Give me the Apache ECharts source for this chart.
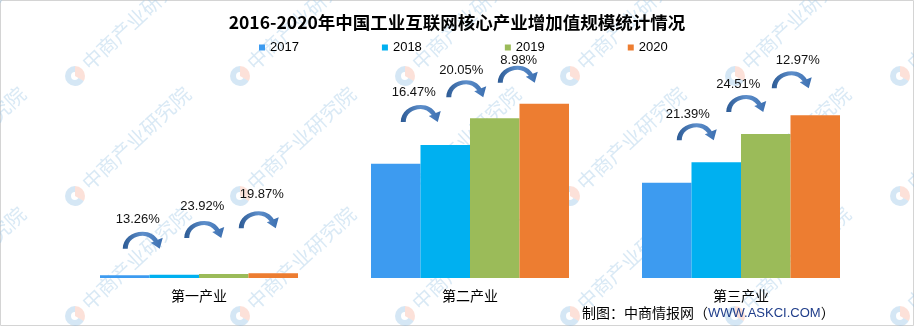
<!DOCTYPE html>
<html><head><meta charset="utf-8">
<script src="https://cdn.jsdelivr.net/npm/echarts@6/dist/echarts.min.js"></script>
<style>html,body{margin:0;padding:0;background:#fff}#c{width:914px;height:326px}</style>
</head><body><div id="c"></div>
<script>
// ---- data ----
const titleText = '2016-2020年中国工业互联网核心产业增加值规模统计情况';
const categories = ['第一产业', '第二产业', '第三产业'];
const years = ['2017', '2018', '2019', '2020'];
const v2017 = [77, 3075, 2565];
const v2018 = [87, 3581, 3114];
const v2019 = [108, 4299, 3877];
const v2020 = [130, 4685, 4380];
const growthLabels = [
  ['13.26%', '23.92%', '19.87%'],
  ['16.47%', '20.05%', '8.98%'],
  ['21.39%', '24.51%', '12.97%']
];
const sourceLabel = ['制图：中商情报网（', 'WWW.ASKCI.COM', '）'];
const watermarkText = '中商产业研究院';

// ---- layout / style (kept separate from data) ----
const colors = ['#3D9BF0', '#00B0F0', '#9BBB59', '#ED7D31'];
const BAR_W = 49.5;
// [arrow dx from bar center, lift above next bar top, label dx from arrow left, label dy above arrow top]
const annLayout = [
  [[-2, 26, 15, 12], [10, 36, 18, 15], [15, 45, 23, 17]],
  [[5, 23, 13, 12], [1, 21, 15, 10], [3, 21, 21, 5]],
  [[10, 22, 11, 9], [10, 22, 12, 10], [6, 27, 26, 11]]
];
const FONT = '"Liberation Sans", "Noto Sans CJK SC", sans-serif';
const seriesValues = [v2017, v2018, v2019, v2020];

// curved arrow shape (drawn in a 42x17 box, scaled to shape width/height)
const CurvedArrow = echarts.graphic.extendShape({
  shape: { x: 0, y: 0, width: 42, height: 17 },
  buildPath: function (ctx, s) {
    const sx = s.width / 42, sy = s.height / 17;
    const P = (x, y) => [s.x + x * sx, s.y + y * sy];
    let p;
    p = P(0, 17); ctx.moveTo(p[0], p[1]);
    let a = P(0, 7), b = P(9, 0), c = P(20, 0); ctx.bezierCurveTo(a[0], a[1], b[0], b[1], c[0], c[1]);
    a = P(27, 0); b = P(32, 3); c = P(35, 8); ctx.bezierCurveTo(a[0], a[1], b[0], b[1], c[0], c[1]);
    p = P(40, 6); ctx.lineTo(p[0], p[1]);
    p = P(37, 17); ctx.lineTo(p[0], p[1]);
    p = P(28, 11); ctx.lineTo(p[0], p[1]);
    p = P(31, 10); ctx.lineTo(p[0], p[1]);
    a = P(28, 6); b = P(24, 4); c = P(20, 4); ctx.bezierCurveTo(a[0], a[1], b[0], b[1], c[0], c[1]);
    a = P(12, 4); b = P(5, 9); c = P(5, 17); ctx.bezierCurveTo(a[0], a[1], b[0], b[1], c[0], c[1]);
    ctx.closePath();
  }
});
echarts.graphic.registerShape('curvedArrow', CurvedArrow);

const chart = echarts.init(document.getElementById('c'), null, { renderer: 'canvas' });
chart.setOption({
  animation: false,
  backgroundColor: '#fff',
  title: {
    text: titleText, left: 'center', top: 9,
    textStyle: { fontSize: 17.5, fontWeight: 'bold', color: '#000', fontFamily: '"Noto Sans CJK SC", sans-serif' }
  },
  legend: {
    data: years, left: 254, top: 36, icon: 'rect', itemWidth: 6, itemHeight: 6, itemGap: 83,
    textStyle: { fontSize: 13, color: '#000', fontFamily: FONT }
  },
  grid: { left: 63.5, right: 37.5, top: 55, bottom: 48, containLabel: false, outerBoundsMode: 'none' },
  xAxis: {
    type: 'category', data: categories,
    axisLine: { show: false }, axisTick: { show: false },
    axisLabel: { fontSize: 14, color: '#000', margin: 11, fontFamily: '"Noto Sans CJK SC", sans-serif' }
  },
  yAxis: { type: 'value', min: 0, max: 6000, show: false, splitLine: { show: false } },
  series: years.map((y, i) => ({
    name: y, type: 'bar', data: seriesValues[i], barWidth: BAR_W, barGap: '0%',
    itemStyle: { color: colors[i] }, z: 2
  }))
});

const arrowFill = new echarts.graphic.LinearGradient(0, 0, 1, 0, [
  { offset: 0, color: '#2C5A94' }, { offset: 0.5, color: '#5E8FCB' }, { offset: 1, color: '#3C6FB0' }
]);

const graphics = [];
// border
graphics.push({ type: 'rect', shape: { x: 0.5, y: 0.5, width: 913, height: 325 }, style: { fill: 'none', stroke: '#d4d4d4', lineWidth: 1 }, z: 0, silent: true });

// watermarks
for (let k = -1; k <= 5; k++) {
  for (let j = 0; j <= 2; j++) {
    const lx = 75 + 165 * k, ly = 76 + 120 * j;
    graphics.push({
      type: 'group', x: lx, y: ly, z: 50, silent: true,
      children: [
        { type: 'sector', shape: { cx: 0, cy: 0, r: 10, r0: 4, startAngle: Math.PI / 2, endAngle: Math.PI * 1.5, clockwise: true }, style: { fill: 'rgba(150,195,230,0.4)' } },
        { type: 'sector', shape: { cx: 0, cy: 0, r: 10, r0: 0, startAngle: -Math.PI / 2, endAngle: Math.PI / 6, clockwise: true }, style: { fill: 'rgba(245,170,145,0.35)' } },
        { type: 'sector', shape: { cx: 0, cy: 0, r: 10, r0: 4, startAngle: Math.PI / 6, endAngle: Math.PI / 2, clockwise: true }, style: { fill: 'rgba(150,195,230,0.4)' } },
        { type: 'text', x: 10, y: -10, rotation: 43 * Math.PI / 180,
          style: { text: watermarkText, fontSize: 20, fontFamily: '"Noto Sans CJK SC", sans-serif', fill: 'rgba(150,195,228,0.36)', verticalAlign: 'middle', align: 'left' } }
      ]
    });
  }
}

// growth annotations
categories.forEach((cat, c) => {
  const center = chart.convertToPixel({ gridIndex: 0 }, [c, 0])[0];
  for (let i = 0; i < 3; i++) {
    const [dx, lift, ldx, ldy] = annLayout[c][i];
    const barCx = center + (i - 1.5) * BAR_W;
    const nextTop = chart.convertToPixel({ gridIndex: 0 }, [c, seriesValues[i + 1][c]])[1];
    const ax = barCx + dx, ay = nextTop - lift - 17;
    graphics.push({ type: 'curvedArrow', z: 60, shape: { x: ax, y: ay, width: 42, height: 17 }, style: { fill: arrowFill } });
    graphics.push({ type: 'text', z: 60, x: ax + ldx, y: ay - ldy,
      style: { text: growthLabels[c][i], fontSize: 13, fontFamily: FONT, fill: '#111', align: 'center', verticalAlign: 'middle' } });
  }
});

// source label
graphics.push({
  type: 'text', left: 582, top: 306, z: 60,
  style: {
    text: '{a|' + sourceLabel[0] + '}{b|' + sourceLabel[1] + '}{a|' + sourceLabel[2] + '}',
    rich: {
      a: { fontSize: 14, fill: '#000', fontFamily: '"Noto Sans CJK SC", sans-serif' },
      b: { fontSize: 13, fill: '#1F3D8A', fontFamily: '"Liberation Sans", sans-serif' }
    }
  }
});

chart.setOption({ graphic: graphics });
</script>
</body></html>
